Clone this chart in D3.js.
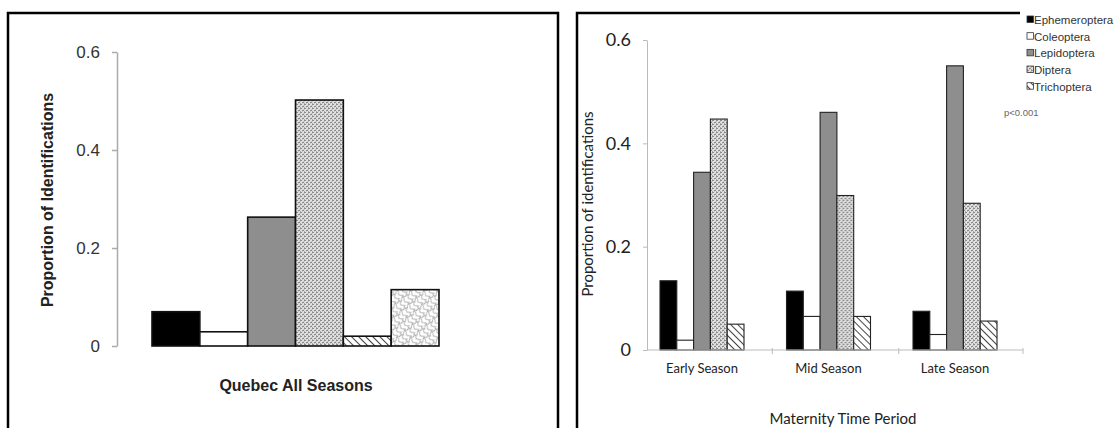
<!DOCTYPE html>
<html lang="en">
<head>
<meta charset="UTF-8">
<title>Insect identifications</title>
<script src="https://d3js.org/d3.v7.min.js"></script>
<style>
  body { margin: 0; background: #fff; }
  svg { display: block; }
  .left text { font-family: "Liberation Sans", Arial, sans-serif; }
  .right text { font-family: Lato, "Open Sans", sans-serif; }
  .legend text { font-family: "Liberation Sans", Arial, sans-serif; }
</style>
</head>
<body>
<svg width="1117" height="428"></svg>
<script>
// ---- data ----
var quebecTaxa = ["Ephemeroptera", "Coleoptera", "Lepidoptera", "Diptera", "Trichoptera", "Other"];
var quebecValues = [0.07, 0.029, 0.263, 0.502, 0.02, 0.115];

var seasons = ["Early Season", "Mid Season", "Late Season"];
var taxa = ["Ephemeroptera", "Coleoptera", "Lepidoptera", "Diptera", "Trichoptera"];
var ephemeroptera = [0.134, 0.114, 0.075];
var coleoptera = [0.019, 0.065, 0.030];
var lepidoptera = [0.344, 0.460, 0.550];
var diptera = [0.447, 0.299, 0.284];
var trichoptera = [0.050, 0.065, 0.056];

var yTicks = [0, 0.2, 0.4, 0.6];
var yTickLabels = ["0", "0.2", "0.4", "0.6"];

var seasonValues = { Ephemeroptera: ephemeroptera, Coleoptera: coleoptera, Lepidoptera: lepidoptera, Diptera: diptera, Trichoptera: trichoptera };

var svg = d3.select("svg");

// ---- fill patterns ----
var defs = svg.append("defs");
var dots = defs.append("pattern").attr("id", "dots").attr("patternUnits", "userSpaceOnUse").attr("width", 4).attr("height", 4);
dots.append("rect").attr("width", 4).attr("height", 4).attr("fill", "#e2e2e2");
dots.append("path").attr("d", "M0,1 L2,0 M2,3 L4,2 M0.5,3.5 L1,3").attr("stroke", "#6e6e6e").attr("stroke-width", 1);

var hatch = defs.append("pattern").attr("id", "hatch").attr("patternUnits", "userSpaceOnUse")
  .attr("width", 5).attr("height", 5).attr("patternTransform", "rotate(-45)");
hatch.append("rect").attr("width", 5).attr("height", 5).attr("fill", "#fff");
hatch.append("line").attr("x1", 0).attr("y1", 0).attr("x2", 0).attr("y2", 5).attr("stroke", "#444").attr("stroke-width", 2);

// diagonal wavy lines in two directions
var waves = defs.append("pattern").attr("id", "waves").attr("patternUnits", "userSpaceOnUse")
  .attr("width", 10).attr("height", 9).attr("patternTransform", "rotate(-40)");
waves.append("rect").attr("width", 10).attr("height", 9).attr("fill", "#fff");
waves.append("path").attr("d", "M0,2 C2.5,-1 2.5,5 5,2 S7.5,-1 10,2 M2,0 C5,2.25 -1,4.5 2,6.75 S5,9 2,9 M7,0 C10,2.25 4,4.5 7,6.75 S10,9 7,9")
  .attr("fill", "none").attr("stroke", "#a0a0a0").attr("stroke-width", 1);

var fills = { Ephemeroptera: "#000", Coleoptera: "#fff", Lepidoptera: "#8e8e8e", Diptera: "url(#dots)", Trichoptera: "url(#hatch)", Other: "url(#waves)" };

// ---- frames ----
svg.append("rect").attr("x", 8).attr("y", 13).attr("width", 550).attr("height", 440)
  .attr("fill", "none").attr("stroke", "#000").attr("stroke-width", 2.5);
svg.append("path").attr("d", "M577,440V13H1020").attr("fill", "none").attr("stroke", "#000").attr("stroke-width", 2.5);

// ---- left chart: Quebec all seasons ----
var left = svg.append("g").attr("class", "left");
var yL = d3.scaleLinear().domain([0, 0.6]).range([346, 52]);
var xL = d3.scaleBand().domain(quebecTaxa).range([152, 439]).padding(0);

left.selectAll("rect.bar").data(quebecTaxa).enter().append("rect")
  .attr("class", "bar")
  .attr("x", function(d) { return xL(d); })
  .attr("width", xL.bandwidth())
  .attr("y", function(d, i) { return yL(quebecValues[i]); })
  .attr("height", function(d, i) { return yL(0) - yL(quebecValues[i]); })
  .attr("fill", function(d) { return fills[d]; })
  .attr("stroke", "#111").attr("stroke-width", 1.6);

var yAxisL = d3.axisLeft(yL).tickValues(yTicks).tickFormat(function(d, i) { return yTickLabels[i]; })
  .tickSize(5).tickSizeOuter(0).tickPadding(12);
var gyL = left.append("g").attr("transform", "translate(117,0)").call(yAxisL);
gyL.select(".domain").attr("stroke", "#aaa").attr("stroke-width", 1.5);
gyL.selectAll(".tick line").attr("stroke", "#aaa").attr("stroke-width", 1.5);
gyL.selectAll(".tick text").attr("font-size", 17).attr("fill", "#333").attr("font-family", "Liberation Sans, Arial, sans-serif");

left.append("text").attr("transform", "translate(53,200) rotate(-90)").attr("text-anchor", "middle")
  .attr("font-size", 16).attr("font-weight", "bold").attr("fill", "#222").text("Proportion of Identifications");
left.append("text").attr("x", 296).attr("y", 391).attr("text-anchor", "middle")
  .attr("font-size", 16).attr("font-weight", "bold").attr("fill", "#222").text("Quebec All Seasons");

// ---- right chart: maternity time period ----
var right = svg.append("g").attr("class", "right");
var yR = d3.scaleLinear().domain([0, 0.6]).range([350, 40]);
var xR = d3.scaleBand().domain(seasons).range([638.75, 1018.25]).padding(0);
var xInner = d3.scaleBand().domain(taxa).range([0, 84]).padding(0);
var axisLeftX = 647, axisRightX = 1023;

var groups = right.selectAll("g.season").data(seasons).enter().append("g")
  .attr("class", "season")
  .attr("transform", function(d) { return "translate(" + (xR(d) + xR.bandwidth() / 2 - 42) + ",0)"; });

groups.selectAll("rect").data(function(s, si) {
    return taxa.map(function(t) { return { taxon: t, value: seasonValues[t][si] }; });
  }).enter().append("rect")
  .attr("x", function(d) { return xInner(d.taxon); })
  .attr("width", xInner.bandwidth())
  .attr("y", function(d) { return yR(d.value); })
  .attr("height", function(d) { return yR(0) - yR(d.value); })
  .attr("fill", function(d) { return fills[d.taxon]; })
  .attr("stroke", "#222").attr("stroke-width", 1.1);

var yAxisR = d3.axisLeft(yR).tickValues(yTicks).tickFormat(function(d, i) { return yTickLabels[i]; })
  .tickSize(4).tickSizeOuter(0).tickPadding(12);
var gyR = right.append("g").attr("transform", "translate(" + axisLeftX + ",0)").call(yAxisR);
gyR.select(".domain").attr("stroke", "#bbb");
gyR.selectAll(".tick line").attr("stroke", "#bbb");
gyR.selectAll(".tick text").attr("font-size", 18).attr("fill", "#222").attr("font-family", "Lato, sans-serif");

// x axis line with ticks between season groups
right.append("line").attr("x1", axisLeftX).attr("x2", axisRightX).attr("y1", yR(0)).attr("y2", yR(0))
  .attr("stroke", "#bbb").attr("stroke-width", 1.2);
var boundaries = seasons.slice(1).map(function(s) { return xR(s) + 7; }).concat([axisRightX]);
right.selectAll("line.xtick").data(boundaries).enter().append("line").attr("class", "xtick")
  .attr("x1", function(d) { return d; }).attr("x2", function(d) { return d; })
  .attr("y1", yR(0) - 2).attr("y2", yR(0) + 4).attr("stroke", "#bbb");

right.selectAll("text.cat").data(seasons).enter().append("text").attr("class", "cat")
  .attr("x", function(d) { return xR(d) + xR.bandwidth() / 2; })
  .attr("y", 373).attr("text-anchor", "middle")
  .attr("font-size", 13).attr("fill", "#222")
  .attr("font-family", "Liberation Sans, Arial, sans-serif")
  .text(function(d) { return d; });

right.append("text").attr("transform", "translate(593,204) rotate(-90)").attr("text-anchor", "middle")
  .attr("font-size", 15).attr("fill", "#222").text("Proportion of identifications");
right.append("text").attr("x", 843).attr("y", 424).attr("text-anchor", "middle")
  .attr("font-size", 15).attr("fill", "#222").text("Maternity Time Period");

// ---- legend ----
var legend = svg.append("g").attr("class", "legend");
var ly = d3.scalePoint().domain(taxa).range([20, 86.7]);
var items = legend.selectAll("g").data(taxa).enter().append("g")
  .attr("transform", function(d) { return "translate(1027," + ly(d) + ")"; });
items.append("rect").attr("x", 0).attr("y", -4).attr("width", 6.5).attr("height", 6.5)
  .attr("fill", function(d) { return fills[d]; }).attr("stroke", "#333").attr("stroke-width", 0.8);
items.append("text").attr("x", 7).attr("y", 4).attr("font-size", 11.5).attr("fill", "#333")
  .text(function(d) { return d; });
legend.append("text").attr("x", 1004).attr("y", 115.5).attr("font-size", 9.5).attr("fill", "#666").text("p<0.001");
</script>
</body>
</html>
